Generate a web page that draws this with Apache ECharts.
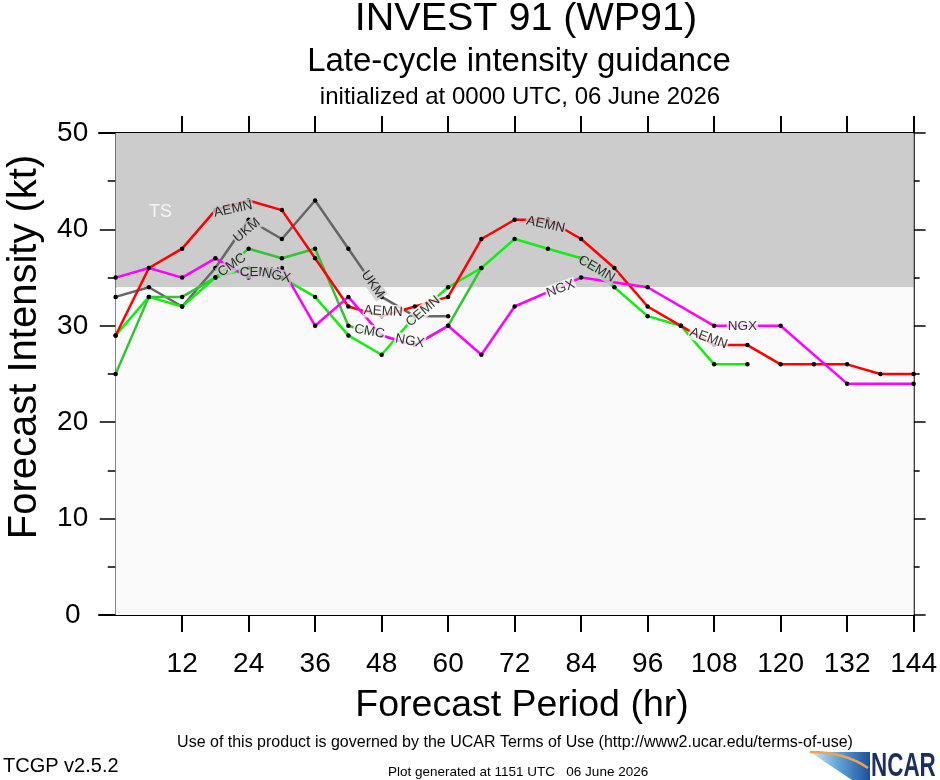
<!DOCTYPE html>
<html>
<head>
<meta charset="utf-8">
<script src="https://cdn.jsdelivr.net/npm/echarts@6/dist/echarts.min.js"></script>
<style>html,body{margin:0;padding:0;background:#fff;}#c{width:940px;height:780px;}</style>
</head>
<body>
<div id="c"></div>
<script>
// ---- data ----
const hoursAEMN = [0,6,12,18,24,30,36,42,48,54,60,66,72,78,84,90,96,102,108,114,120,126,132,138,144];
const aemn      = [29,36,38,42,43,42,37,32,31,32,33,39,41,41,39,36,32,30,28,28,26,26,26,25,25];
const hoursCEMN = [0,6,12,18,24,30,36,42,48,54,60,66,72,78,84,90,96,102,108,114];
const cemn      = [29,33,32,35,36,35,33,29,27,31,34,36,39,38,37,34,31,30,26,26];
const hoursCMC  = [0,6,12,18,24,30,36,42,48,54,60,66];
const cmc       = [25,33,33,35,38,37,38,30,29,28,30,36];
const hoursUKM  = [0,6,12,18,24,30,36,42,48,54,60];
const ukm       = [33,34,32,36,41,39,43,38,33,31,31];
const hoursNGX  = [0,6,12,18,24,30,36,42,48,54,60,66,72,84,96,108,120,132,144];
const ngx       = [35,36,35,37,35,36,30,33,29,28,30,27,32,35,34,30,30,24,24];
const xTicks    = [12,24,36,48,60,72,84,96,108,120,132,144];
const tsThreshold = 34;
// in-line model labels
const labelText = ['AEMN','UKM','CMC','CEMN','NGX','UKM','AEMN','CMC','NGX','CEMN','AEMN','CEMN','NGX','AEMN','NGX'];
const labelHour = [21.2,23.7,21.0,26.0,29.0,46.4,48.3,45.8,53.1,55.5,77.6,86.8,80.3,107.0,113.1];
const labelKt   = [42.1,39.9,36.3,35.6,35.2,34.3,31.5,29.4,28.4,31.5,40.5,35.9,33.85,28.7,29.9];
const labelRot  = [12,40,35,0,-12,-55,-3,-10,-10,40,-12,-30,20,-20,0];

const FONT = '"Liberation Sans", Arial, Helvetica, sans-serif';
const GRAY = '#cccccc', LIGHT = '#fafafa';
const X_MIN = -3, X_MAX = 144;
const G_LEFT = 99, G_RIGHT = 23, G_TOP = 133, G_BOTTOM = 165, W = 940;
const zeroLeft = G_LEFT + (0 - X_MIN) * (W - G_LEFT - G_RIGHT) / (X_MAX - X_MIN);

function lineSeries(name, hours, vals, color, z) {
  return {
    type: 'line', name: name, z: z, silent: true, animation: false,
    data: hours.map((h, i) => [h, vals[i]]),
    symbol: 'circle', symbolSize: 4.5, showSymbol: true,
    itemStyle: { color: '#000' },
    lineStyle: { color: color, width: 2.5 }
  };
}

const labelData = labelText.map((t, i) => ({
  value: [labelHour[i], labelKt[i]],
  name: t,
  label: { rotate: labelRot[i], backgroundColor: labelKt[i] >= tsThreshold ? GRAY : LIGHT }
}));

const chart = echarts.init(document.getElementById('c'), null, { renderer: 'canvas' });
chart.setOption({
  animation: false,
  backgroundColor: '#ffffff',
  grid: [
    { left: G_LEFT, right: G_RIGHT, top: G_TOP, bottom: G_BOTTOM, containLabel: false },
    { left: zeroLeft, right: G_RIGHT, top: G_TOP, bottom: G_BOTTOM, containLabel: false }
  ],
  xAxis: [
    {
      type: 'value', gridIndex: 0, min: X_MIN, max: X_MAX, position: 'bottom',
      axisLine: { onZero: false, lineStyle: { color: '#000', width: 2 } },
      axisTick: { customValues: xTicks, length: 17, inside: false, lineStyle: { color: '#000', width: 2 } },
      axisLabel: { customValues: xTicks, fontSize: 28, color: '#000', fontFamily: FONT, margin: 35 },
      splitLine: { show: false }
    },
    {
      type: 'value', gridIndex: 0, min: X_MIN, max: X_MAX, position: 'top',
      axisLine: { onZero: false, lineStyle: { color: '#000', width: 2 } },
      axisTick: { customValues: xTicks, length: 17, inside: false, lineStyle: { color: '#000', width: 2 } },
      axisLabel: { show: false },
      splitLine: { show: false }
    },
    {
      type: 'value', gridIndex: 1, min: 0, max: X_MAX, show: false
    }
  ],
  yAxis: [
    {
      type: 'value', gridIndex: 0, min: 0, max: 50, interval: 10, show: false
    },
    {
      type: 'value', gridIndex: 0, min: 0, max: 50, interval: 10, position: 'right',
      axisLine: { show: true, onZero: false, lineStyle: { color: '#000', width: 1.5 } },
      axisTick: { show: true, length: 12, inside: false, lineStyle: { color: '#000', width: 1.5 } },
      minorTick: { show: true, splitNumber: 2, length: 6, lineStyle: { color: '#000', width: 1.5 } },
      axisLabel: { show: false },
      splitLine: { show: false }
    },
    {
      type: 'value', gridIndex: 1, min: 0, max: 50, interval: 10, position: 'left',
      axisLine: { show: true, onZero: false, lineStyle: { color: '#000', width: 1.5 } },
      axisTick: { show: true, length: 16, inside: false, lineStyle: { color: '#000', width: 1.5 } },
      minorTick: { show: true, splitNumber: 2, length: 8, lineStyle: { color: '#000', width: 1.5 } },
      axisLabel: { fontSize: 28, color: '#000', fontFamily: FONT, margin: 43, align: 'center' },
      splitLine: { show: false }
    }
  ],
  series: [
    {
      type: 'line', name: 'bg', z: 0, silent: true, symbol: 'none',
      data: [[0, 0]], lineStyle: { opacity: 0 },
      markArea: {
        silent: true,
        data: [
          [{ coord: [0, tsThreshold], itemStyle: { color: GRAY } }, { coord: [X_MAX, 50] }],
          [{ coord: [0, 0], itemStyle: { color: LIGHT } }, { coord: [X_MAX, tsThreshold] }]
        ]
      }
    },
    {
      type: 'scatter', name: 'TS', z: 3, silent: true, symbolSize: 0,
      data: [{ value: [8.1, 41.8], name: 'TS' }],
      label: { show: true, position: 'inside', formatter: '{b}', color: '#ffffff', fontSize: 18, fontFamily: FONT }
    },
    lineSeries('UKM', hoursUKM, ukm, '#666666', 4),
    lineSeries('CMC', hoursCMC, cmc, '#33c433', 5),
    lineSeries('CEMN', hoursCEMN, cemn, '#11ee11', 6),
    lineSeries('AEMN', hoursAEMN, aemn, '#ff0000', 7),
    lineSeries('NGX', hoursNGX, ngx, '#ff00ff', 8),
    {
      type: 'scatter', name: 'labels', z: 10, silent: true, symbolSize: 0,
      data: labelData,
      label: { show: true, position: 'inside', formatter: '{b}', color: '#000', fontSize: 13.5,
               fontFamily: FONT, padding: [0, 1], lineHeight: 14 }
    }
  ],
  graphic: [
    { type: 'text', x: 526, y: 19, style: { text: 'INVEST 91 (WP91)', fill: '#000', fontSize: 39.5, fontFamily: FONT, align: 'center', verticalAlign: 'middle' } },
    { type: 'text', x: 519, y: 62, style: { text: 'Late-cycle intensity guidance', fill: '#000', fontSize: 33, fontFamily: FONT, align: 'center', verticalAlign: 'middle' } },
    { type: 'text', x: 520, y: 97, style: { text: 'initialized at 0000 UTC, 06 June 2026', fill: '#000', fontSize: 24, fontFamily: FONT, align: 'center', verticalAlign: 'middle' } },
    { type: 'text', x: 25, y: 347, rotation: Math.PI / 2, style: { text: 'Forecast Intensity (kt)', fill: '#000', fontSize: 40, fontFamily: FONT, align: 'center', verticalAlign: 'middle' } },
    { type: 'text', x: 522, y: 706, style: { text: 'Forecast Period (hr)', fill: '#000', fontSize: 37.5, fontFamily: FONT, align: 'center', verticalAlign: 'middle' } },
    { type: 'text', x: 515, y: 743, style: { text: 'Use of this product is governed by the UCAR Terms of Use (http://www2.ucar.edu/terms-of-use)', fill: '#000', fontSize: 16, fontFamily: FONT, align: 'center', verticalAlign: 'middle' } },
    { type: 'text', x: 3, y: 766, style: { text: 'TCGP v2.5.2', fill: '#000', fontSize: 20, fontFamily: FONT, align: 'left', verticalAlign: 'middle' } },
    { type: 'text', x: 388, y: 772, style: { text: 'Plot generated at 1151 UTC   06 June 2026', fill: '#000', fontSize: 13.5, fontFamily: FONT, align: 'left', verticalAlign: 'middle' } },
    { type: 'polygon', shape: { points: [[810, 752], [870, 752], [870, 780], [852, 780]] },
      style: { fill: new echarts.graphic.LinearGradient(0, 0, 1, 0, [{ offset: 0, color: '#d6eaf7' }, { offset: 0.5, color: '#5b9fd6' }, { offset: 1, color: '#1d4f9c' }]) } },
    { type: 'bezierCurve', shape: { x1: 810, y1: 752, x2: 868, y2: 768, cpx1: 845, cpy1: 752 },
      style: { stroke: '#f5a04a', lineWidth: 2.5, fill: null } },
    { type: 'text', x: 871, y: 767, scaleX: 0.68, style: { text: 'NCAR', fill: '#1c2f5e', fontSize: 33, fontWeight: 'bold', fontFamily: FONT, align: 'left', verticalAlign: 'middle' } }
  ]
});
</script>
</body>
</html>
